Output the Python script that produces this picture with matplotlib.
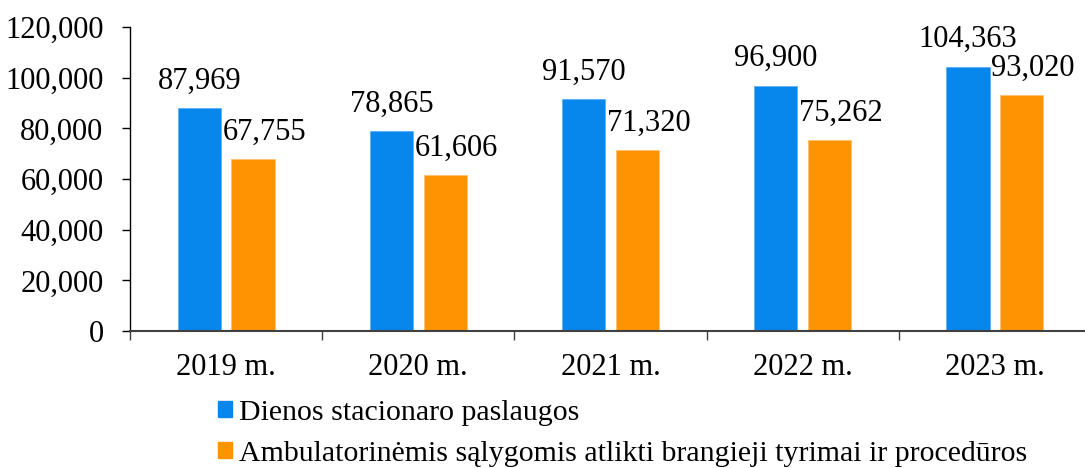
import numpy as np
import matplotlib
matplotlib.use("Agg")
import matplotlib.pyplot as plt
from matplotlib.patches import Patch

years = ["2019 m.", "2020 m.", "2021 m.", "2022 m.", "2023 m."]
dienos = [87969, 78865, 91570, 96900, 104363]
ambul = [67755, 61606, 71320, 75262, 93020]
series_names = ["Dienos stacionaro paslaugos",
                "Ambulatorinėmis sąlygomis atlikti brangieji tyrimai ir procedūros"]
yticks = [0, 20000, 40000, 60000, 80000, 100000, 120000]

blue = "#0787EC"
orange = "#FF9301"

plt.rcParams["font.family"] = ["Liberation Serif", "DejaVu Serif"]

fig = plt.figure(figsize=(10.85, 4.68), dpi=100)
ax = fig.add_axes([130/1085, 1 - 331/468, (1085 - 130)/1085, (331 - 27)/468])

x = np.arange(len(years))
w = 0.224
off = 0.14
b1 = ax.bar(x - off, dienos, w, color=blue, edgecolor="#5fb0f2", linewidth=0.6)
b2 = ax.bar(x + off, ambul, w, color=orange, edgecolor="#ffc070", linewidth=0.6)

for xi, v in zip(x, dienos):
    ax.annotate(f"{v:,}", (xi - off, v), xytext=(0, 9), textcoords="offset points",
                ha="center", va="bottom", fontsize=22)
for xi, v in zip(x, ambul):
    ax.annotate(f"{v:,}", (xi + off, v), xytext=(8, 9), textcoords="offset points",
                ha="center", va="bottom", fontsize=22)

ax.set_ylim(0, 120000)
ax.set_xlim(-0.5, 4.5 - 6/192)
ax.set_yticks(yticks)
ax.set_yticklabels([f"{t:,}" for t in yticks], fontsize=22)
ax.set_xticks(x)
ax.set_xticklabels(years, fontsize=22)
ax.tick_params(axis="x", length=0, pad=16)
ax.set_xticks(np.arange(len(years)) - 0.5, minor=True)
ax.tick_params(axis="x", which="minor", length=6.5, width=1, color="#404040")
ax.tick_params(axis="y", length=6, width=1, pad=13)
for s in ["top", "right"]:
    ax.spines[s].set_visible(False)
ax.spines["left"].set_linewidth(1)
ax.spines["bottom"].set_color("#404040")
ax.spines["bottom"].set_linewidth(1.5)

handles = [Patch(color=blue), Patch(color=orange)]
fig.legend(handles, series_names, loc="upper left", bbox_to_anchor=(218/1085, 1 - 400/468),
           frameon=False, fontsize=21.5, handlelength=0.46, handleheight=0.46,
           handletextpad=0.25, labelspacing=0.5, borderpad=0, borderaxespad=0)

fig.savefig("out.png", dpi=100)
